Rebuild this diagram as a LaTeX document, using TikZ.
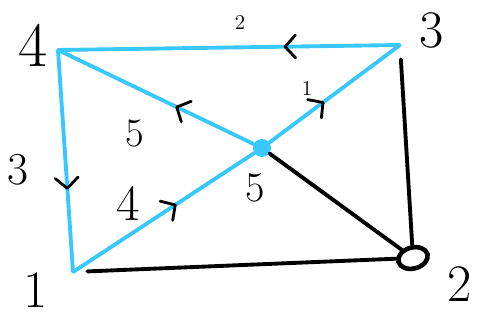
\documentclass[tikz,border=0pt]{standalone}
\usepackage{tikz}
\usetikzlibrary{
	arrows.meta,
	decorations.markings,
	shapes.geometric
}
\definecolor{penblue}{RGB}{56,200,255}

\begin{document}
\begin{tikzpicture}[
		blueline/.style={draw=penblue, line width=2.2pt, line cap=round},
		blackline/.style={draw=black, line width=2.2pt, line cap=round},
		corner/.style={inner sep=0pt, minimum size=0pt},
		num/.style={font=\fontsize{#1}{#1}\selectfont},
		tip/.style={postaction={decorate, decoration={markings,
			mark=at position #1 with {\arrow{Straight Barb[black, length=6pt, width=13pt, line width=1.6pt, round]}}}}}
	]
		\useasboundingbox (0,0) rectangle (9.58,6.4);
		% vertices
		\node[corner] (n4) at (1.16,5.4) {};
		\node[corner] (n3) at (8.0,5.5) {};
		\node[corner] (n1) at (1.46,0.96) {};
		\node[draw, line width=2.6pt, ellipse, minimum width=0.6cm, minimum height=0.42cm, rotate=15] (n2) at (8.26,1.24) {};
		\node[circle, fill=penblue, minimum size=0.36cm, inner sep=0pt] (c) at (5.24,3.44) {};
		% vertex names
		\node[num=36] (l4) at (0.66,5.5) {4};
		\node[num=30] (l3) at (8.64,5.8) {3};
		\node[num=30] (l1) at (0.72,0.6) {1};
		\node[num=30] (l2) at (9.2,0.72) {2};
		% blue edges
		\draw[blueline, tip=0.34] (n3) -- (n4);
		\draw[blueline, tip=0.63] (n4) -- (n1);
		\draw[blueline, tip=0.57] (n1) -- (c);
		\draw[blueline, tip=0.42] (c) -- (n3);
		\draw[blueline, tip=0.4] (c) -- (n4);
		% black edges
		\draw[blackline, shorten <=8pt] (n1) -- (n2);
		\draw[blackline, shorten <=8pt] (n3) -- (n2);
		\draw[blackline] (c) -- (n2);
		% weights
		\node[num=12] (w34) at (4.8,5.96) {2};
		\node[num=26] (w41) at (0.36,3.0) {3};
		\node[num=23] (wc4) at (2.7,3.74) {5};
		\node[num=12] (wc3) at (6.14,4.64) {1};
		\node[num=29] (w1c) at (2.56,2.34) {4};
		\node[num=24] (wc2) at (5.1,2.64) {5};
	\end{tikzpicture}
\end{document}
